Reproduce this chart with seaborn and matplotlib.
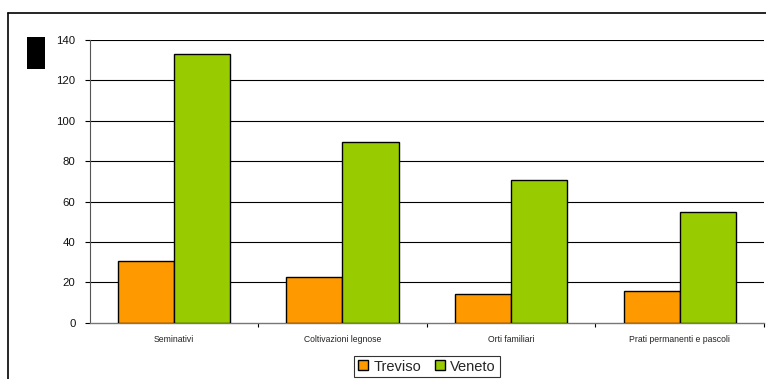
import matplotlib
matplotlib.use("Agg")
import matplotlib.pyplot as plt
import seaborn as sns
import pandas as pd
from matplotlib.patches import Rectangle
from matplotlib.lines import Line2D

categories = ["Seminativi", "Coltivazioni legnose", "Orti familiari", "Prati permanenti e pascoli"]
treviso = [30.8, 22.5, 14.4, 15.9]
veneto = [132.9, 89.6, 70.7, 54.6]
series = ["Treviso", "Veneto"]
yticks = [0, 20, 40, 60, 80, 100, 120, 140]

df = pd.DataFrame({
    "cat": categories * 2,
    "val": treviso + veneto,
    "serie": [series[0]] * 4 + [series[1]] * 4,
})

sns.set_theme(style="white")
plt.rcParams["font.family"] = ["Liberation Sans", "DejaVu Sans"]

fig = plt.figure(figsize=(7.66, 3.79), dpi=100)
ax = fig.add_axes([89.5 / 766, 56.3 / 379, 674.5 / 766, 282.7 / 379])

sns.barplot(data=df, x="cat", y="val", hue="serie", order=categories,
            hue_order=series, palette=["#FF9900", "#99CC00"], width=0.665,
            edgecolor="black", linewidth=1.0, saturation=1, ax=ax, zorder=3)

ax.set_ylim(0, 140)
ax.set_xlim(-0.5, 3.5)
ax.set_yticks(yticks)
ax.set_yticklabels([str(v) for v in yticks], fontsize=8.2, color="#111111")
for v in yticks[1:]:
    ax.axhline(v, color="black", lw=0.8, zorder=1)

ax.set_xticks([0, 1, 2, 3])
ax.set_xticklabels(categories, fontsize=6.2, color="#222222")
ax.tick_params(axis="x", length=0, pad=8.5)
ax.set_xticks([0.5, 1.5, 2.5, 3.5], minor=True)
ax.tick_params(axis="x", which="minor", length=3, width=0.8, color="black", direction="out", bottom=True)
ax.tick_params(axis="y", length=3.5, width=0.8, color="black", direction="out", left=True, pad=6.5)

for s in ["top", "right"]:
    ax.spines[s].set_visible(False)
ax.spines["left"].set_color("#555555")
ax.spines["left"].set_linewidth(0.8)
ax.spines["bottom"].set_color("#777777")
ax.spines["bottom"].set_linewidth(1.0)
ax.set_xlabel("")
ax.set_ylabel("")

handles = [Line2D([0], [0], marker="s", linestyle="none", markersize=7,
                  markerfacecolor=c, markeredgecolor="black", markeredgewidth=1.0)
           for c in ["#FF9900", "#99CC00"]]
ax.legend(handles, series, loc="center", bbox_to_anchor=(0.5, -0.155),
          ncol=2, fontsize=10.5, frameon=True, fancybox=False, edgecolor="black",
          handlelength=0.8, handletextpad=0.3, columnspacing=0.9, borderpad=0.25,
          borderaxespad=0)
leg = ax.get_legend()
leg.get_frame().set_linewidth(0.8)

# outer chart border and placeholder title block
fig.add_artist(Line2D([8 / 766, 1.0], [1 - 12.5 / 379, 1 - 12.5 / 379],
                      transform=fig.transFigure, color="black", lw=1.2))
fig.add_artist(Line2D([8 / 766, 8 / 766], [0, 1 - 12.5 / 379],
                      transform=fig.transFigure, color="black", lw=1.2))
fig.add_artist(Rectangle((27 / 766, 1 - 69 / 379), 18 / 766, 32 / 379,
                         transform=fig.transFigure, facecolor="black", edgecolor="none"))

fig.savefig("out.png", dpi=100)
